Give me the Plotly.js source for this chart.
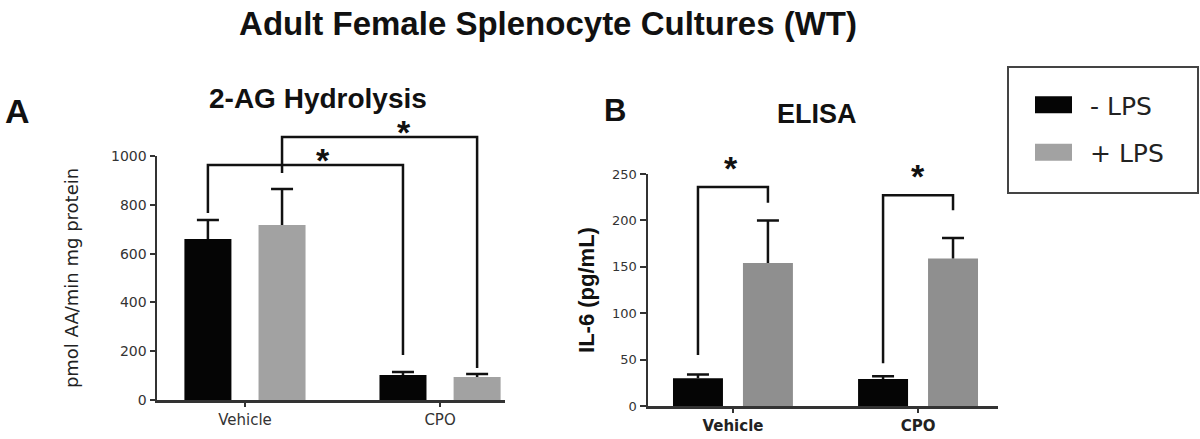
<!DOCTYPE html>
<html><head><meta charset="utf-8">
<script src="https://cdn.plot.ly/plotly-3.0.1.min.js"></script>
<style>html,body{margin:0;padding:0;background:#fff;} #chart{width:1200px;height:439px;}</style>
</head><body><div id="chart"></div>
<script>
// ---- data ----
const categories = ['Vehicle', 'CPO'];
const seriesNames = ['- LPS', '+ LPS'];
const hydrolysisMinusLPS = [660, 102];
const hydrolysisMinusLPSErr = [78, 13];
const hydrolysisPlusLPS = [717, 94];
const hydrolysisPlusLPSErr = [148, 13];
const il6MinusLPS = [30, 29];
const il6MinusLPSErr = [4, 3];
const il6PlusLPS = [154, 159];
const il6PlusLPSErr = [46, 22];
const yTicksA = [0, 200, 400, 600, 800, 1000];
const yTicksB = [0, 50, 100, 150, 200, 250];
// significance brackets: endpoints as [categoryIndex, seriesIndex]; heights in data units
const sigA = [
  {from: [0, 0], to: [1, 0], top: 963, fromEnd: 766, toEnd: 184, label: '*'},
  {from: [0, 1], to: [1, 1], top: 1078, fromEnd: 930, toEnd: 131, label: '*'}
];
const sigB = [
  {from: [0, 0], to: [0, 1], top: 236, fromEnd: 55, toEnd: 219, label: '*'},
  {from: [1, 0], to: [1, 1], top: 227, fromEnd: 46, toEnd: 211, label: '*'}
];

// ---- layout constants ----
const W = 1200, H = 439;
const colBlack = '#050505';
const starSize = 34;
const panelA = {xa: 'x', ya: 'y', xdom: [157 / W, 505 / W], ydom: [39 / H, 283 / H],
  xr: [-0.451, 1.333], yr: [0, 1000], off: 0.19, bw: 0.241, gray: '#a2a2a2',
  starDy: -16, starDx: [9, 15]};
const panelB = {xa: 'x2', ya: 'y2', xdom: [648 / W, 998 / W], ydom: [33 / H, 265 / H],
  xr: [-0.459, 1.432], yr: [0, 250], off: 0.189, bw: 0.27, gray: '#8f8f8f',
  starDy: -2, starDx: [-2, 9]};

function px(p, x) { return p.xdom[0] + (x - p.xr[0]) / (p.xr[1] - p.xr[0]) * (p.xdom[1] - p.xdom[0]); }
function py(p, y) { return p.ydom[0] + (y - p.yr[0]) / (p.yr[1] - p.yr[0]) * (p.ydom[1] - p.ydom[0]); }
function seriesX(p, ci, si) { return ci + (si === 0 ? -p.off : p.off); }

function barTrace(p, vals, errs, si, showLegend) {
  return {
    type: 'bar', x: categories, y: vals, name: seriesNames[si],
    xaxis: p.xa, yaxis: p.ya,
    width: p.bw, offset: (si === 0 ? -p.off : p.off) - p.bw / 2,
    marker: {color: si === 0 ? colBlack : p.gray, line: {width: 0}},
    error_y: {type: 'data', array: errs, arrayminus: errs.map(() => 0), symmetric: false,
      color: '#111', thickness: 2.5, width: 11},
    showlegend: showLegend, legendgroup: 'g' + si, hoverinfo: 'skip'
  };
}

const traces = [
  barTrace(panelA, hydrolysisMinusLPS, hydrolysisMinusLPSErr, 0, true),
  barTrace(panelA, hydrolysisPlusLPS, hydrolysisPlusLPSErr, 1, true),
  barTrace(panelB, il6MinusLPS, il6MinusLPSErr, 0, false),
  barTrace(panelB, il6PlusLPS, il6PlusLPSErr, 1, false)
];

const shapes = [];
const annotations = [];
function addBrackets(p, sigs) {
  sigs.forEach((s, k) => {
    const x1 = px(p, seriesX(p, s.from[0], s.from[1]));
    const x2 = px(p, seriesX(p, s.to[0], s.to[1]));
    const yt = py(p, s.top);
    shapes.push({type: 'path', xref: 'paper', yref: 'paper',
      path: `M${x1},${py(p, s.fromEnd)} L${x1},${yt} L${x2},${yt} L${x2},${py(p, s.toEnd)}`,
      line: {color: '#111', width: 2.5}});
    annotations.push({xref: 'paper', yref: 'paper', x: (x1 + x2) / 2, y: yt, yanchor: 'bottom',
      xshift: p.starDx[k], yshift: p.starDy, showarrow: false, text: '<b>' + s.label + '</b>',
      font: {family: 'Liberation Sans, Arial', size: starSize, color: '#111'}});
  });
}
addBrackets(panelA, sigA);
addBrackets(panelB, sigB);

// legend box
shapes.push({type: 'rect', xref: 'paper', yref: 'paper', x0: 1008 / W, x1: 1198 / W,
  y0: (H - 193) / H, y1: (H - 67) / H, line: {color: '#444', width: 2}, fillcolor: 'rgba(0,0,0,0)'});

function txt(text, xpx, ypx, size, family) {
  annotations.push({xref: 'paper', yref: 'paper', x: xpx / W, y: (H - ypx) / H,
    xanchor: 'center', yanchor: 'middle', showarrow: false, text: '<b>' + text + '</b>',
    font: {family: family || 'Liberation Sans, Arial', size: size, color: '#111'}});
}
txt('2-AG Hydrolysis', 318, 98, 28);
txt('ELISA', 817, 114, 27);
txt('A', 17, 111, 34);
txt('B', 615, 111, 31);

const axisLine = {showline: true, linecolor: '#333', linewidth: 2.5, showgrid: false, zeroline: false,
  ticks: 'outside', tickcolor: '#333', tickwidth: 2, fixedrange: true};

const layout = {
  width: W, height: H,
  margin: {l: 0, r: 0, t: 0, b: 0},
  paper_bgcolor: '#fff', plot_bgcolor: '#fff',
  barmode: 'overlay',
  title: {text: '<b>Adult Female Splenocyte Cultures (WT)</b>', x: 548 / W, xanchor: 'center',
    y: 1 - 23 / H, yanchor: 'middle', font: {family: 'Liberation Sans, Arial', size: 33, color: '#111'}},
  xaxis: Object.assign({}, axisLine, {domain: panelA.xdom, range: panelA.xr, anchor: 'y',
    type: 'category', ticklen: 4, tickfont: {family: 'DejaVu Sans', size: 15, color: '#333'}}),
  yaxis: Object.assign({}, axisLine, {domain: panelA.ydom, range: panelA.yr, anchor: 'x',
    tickvals: yTicksA, ticklen: 5, tickfont: {family: 'DejaVu Sans', size: 14, color: '#333'},
    title: {text: 'pmol AA/min mg protein', standoff: 28, font: {family: 'DejaVu Sans', size: 18, color: '#222'}}}),
  xaxis2: Object.assign({}, axisLine, {domain: panelB.xdom, range: panelB.xr, anchor: 'y2',
    type: 'category', ticklen: 4, tickfont: {family: 'DejaVu Sans', size: 15, color: '#222', weight: 'bold'}}),
  yaxis2: Object.assign({}, axisLine, {domain: panelB.ydom, range: panelB.yr, anchor: 'x2',
    tickvals: yTicksB, ticklen: 6, tickfont: {family: 'DejaVu Sans', size: 13, color: '#333'},
    title: {text: 'IL-6 (pg/mL)', standoff: 12, font: {family: 'Liberation Sans, Arial', size: 22, color: '#111', weight: 'bold'}}}),
  showlegend: true,
  legend: {x: 1030 / W, y: (H - 82) / H, xanchor: 'left', yanchor: 'top', orientation: 'v',
    bgcolor: 'rgba(0,0,0,0)', borderwidth: 0, tracegroupgap: 12, itemwidth: 50,
    font: {family: 'DejaVu Sans', size: 25, color: '#222'}},
  shapes: shapes,
  annotations: annotations
};

function polish() {
  // wide legend swatches like the reference
  document.querySelectorAll('.legend .traces').forEach(tr => {
    const t = tr.querySelector('.legendtext');
    const tx = t ? parseFloat(t.getAttribute('x')) || 60 : 60;
    tr.querySelectorAll('.legendpoints path').forEach(p => {
      const b = p.getBBox();
      if (!b.width || !b.height) return;
      const sx = 37 / b.width, sy = 17 / b.height;
      const cx = tx - 18 - 18.5;
      p.setAttribute('transform', `translate(${cx},0) scale(${sx},${sy}) translate(${-(b.x + b.width / 2)},${-(b.y + b.height / 2)})`);
    });
  });
  // error bars drawn upward only (no cap at the bar top)
  document.querySelectorAll('.errorbar path.yerror').forEach(p => {
    const d = p.getAttribute('d') || '';
    p.setAttribute('d', d.replace(/m-[\d.]+,0h[\d.]+\s*$/, ''));
  });
}

const gd = document.getElementById('chart');
Plotly.newPlot(gd, traces, layout, {displayModeBar: false, staticPlot: true}).then(() => {
  polish();
  gd.on && gd.on('plotly_afterplot', polish);
  requestAnimationFrame(polish);
});
</script>
</body></html>
